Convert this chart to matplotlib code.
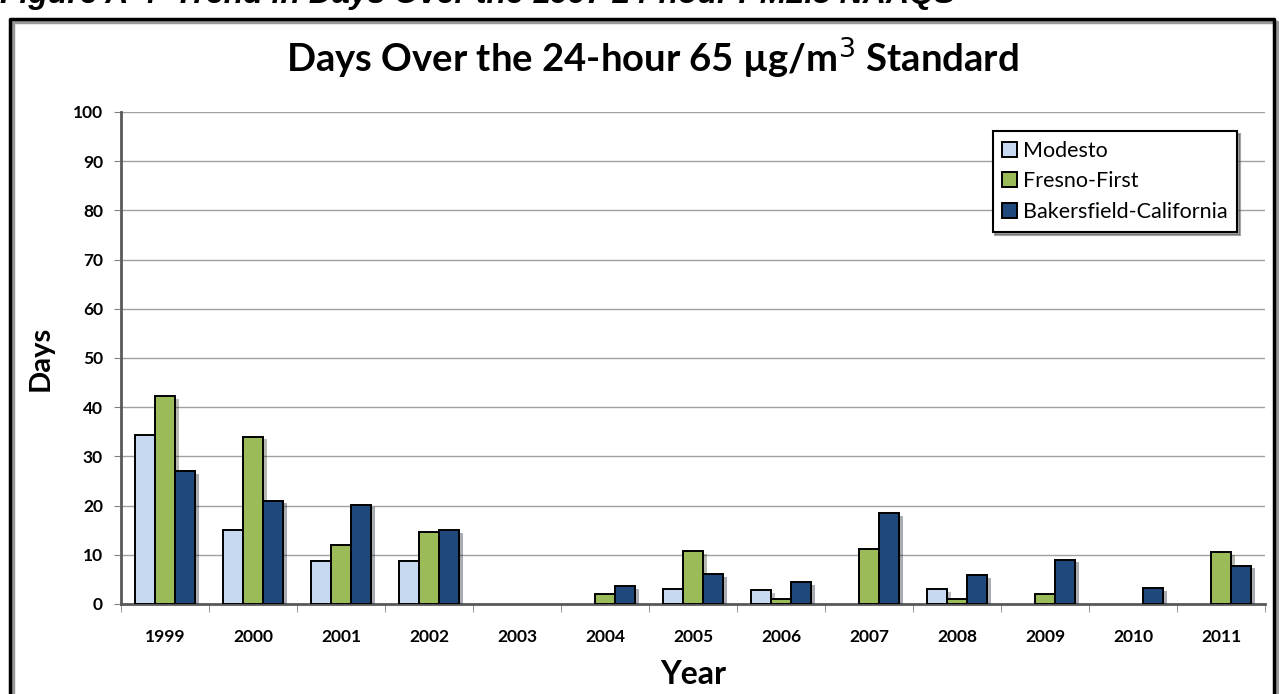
import matplotlib.pyplot as plt
import matplotlib.patheffects as pe
from matplotlib.lines import Line2D
import numpy as np

years = ['1999', '2000', '2001', '2002', '2003', '2004', '2005',
         '2006', '2007', '2008', '2009', '2010', '2011']
modesto = [34.3, 15, 8.7, 8.7, 0, 0, 3, 2.8, 0, 3, 0, 0, 0]
fresno = [42.3, 34, 12, 14.7, 0, 2, 10.8, 1, 11.2, 1, 2, 0, 10.6]
bakersfield = [27, 21, 20.2, 15, 0, 3.7, 6, 4.4, 18.5, 5.8, 9, 3.3, 7.8]
series_names = ['Modesto', 'Fresno-First', 'Bakersfield-California']
colors = ['#C6D9F1', '#9BBB59', '#1F497D']

plt.rcParams['font.family'] = ['Lato', 'DejaVu Sans']

fig = plt.figure(figsize=(12.79, 6.94), dpi=100)

# caption at the very top (cut off in the source image)
fig.text(0.0, 1 - 3 / 694, 'Figure A-4  Trend in Days Over the 1997 24-hour PM2.5 NAAQS',
         family='Liberation Sans', fontweight='bold', fontstyle='italic',
         fontsize=23, va='baseline', ha='left')

# outer chart frame (only left, top and right edges show)
fx = [10 / 1279, 10 / 1279, 1274 / 1279, 1274 / 1279]
fy = [-0.02, 1 - 19 / 694, 1 - 19 / 694, -0.02]
fig.add_artist(Line2D(fx, fy, transform=fig.transFigure, color='black', lw=2.5,
                      path_effects=[pe.SimpleLineShadow(offset=(2, -2), alpha=0.4), pe.Normal()]))

ax = fig.add_axes([121 / 1279, 1 - 604 / 694, (1265 - 121) / 1279, (604 - 112) / 694])

x = np.arange(len(years))
w = 0.225
shadow = [pe.SimplePatchShadow(offset=(3, -2), alpha=0.35), pe.Normal()]
for i, (vals, name, c) in enumerate(zip([modesto, fresno, bakersfield], series_names, colors)):
    bars = ax.bar(x + (i - 1) * w, vals, w, color=c, edgecolor='black', lw=1.4,
                  label=name, zorder=3)
    for b in bars:
        if b.get_height() > 0:
            b.set_path_effects(shadow)
        else:
            b.set_visible(False)

ax.set_xlim(-0.5, len(years) - 0.5)
ax.set_ylim(0, 100)
ax.set_yticks(range(0, 101, 10))
ax.set_xticks(x)
ax.set_xticklabels(years, fontweight='bold', fontsize=12.5)
ax.set_xticks(np.arange(-0.5, len(years)), minor=True)
ax.tick_params(axis='x', which='major', length=0, pad=18)
ax.tick_params(axis='x', which='minor', length=6, color='#808080')
ax.tick_params(axis='y', length=5, color='#808080', pad=8)
for t in ax.get_yticklabels():
    t.set_fontweight('bold')
    t.set_fontsize(12.5)
ax.grid(axis='y', color='#A0A0A0', lw=1, zorder=0)
for s in ['top', 'right']:
    ax.spines[s].set_visible(False)
for s in ['left', 'bottom']:
    ax.spines[s].set_color('#595959')
    ax.spines[s].set_linewidth(2)

ax.set_ylabel('Days', fontsize=21, fontweight='bold', labelpad=14)
ax.set_xlabel('Year', fontsize=23, fontweight='bold', labelpad=11)

fig.text(652 / 1279, 1 - 58 / 694, 'Days Over the 24-hour 65 µg/m$^3$ Standard',
         fontsize=27.5, fontweight='bold', ha='center', va='center')

leg = ax.legend(loc='upper right', bbox_to_anchor=(1237 / 1279, 1 - 131 / 694),
                bbox_transform=fig.transFigure, fontsize=15.5, frameon=True,
                fancybox=False, shadow=True, edgecolor='black', handlelength=0.7,
                handleheight=0.7, handletextpad=0.25, borderpad=0.45, labelspacing=0.5,
                borderaxespad=0)
leg.get_frame().set_linewidth(1.5)
for h in leg.legend_handles:
    h.set_path_effects([])
    h.set_visible(True)

fig.savefig('out.png', dpi=100)
